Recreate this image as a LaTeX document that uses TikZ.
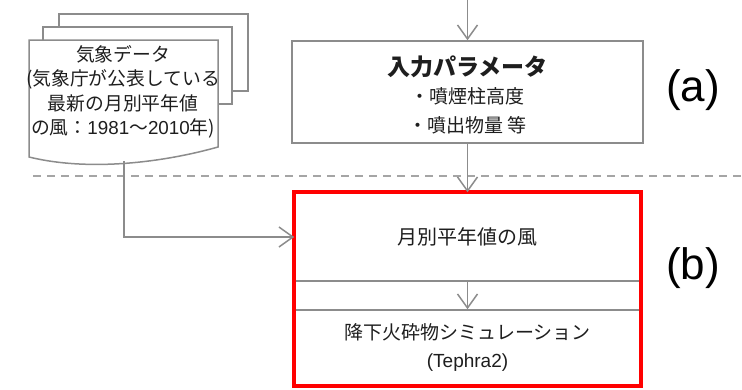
\documentclass[tikz,border=0pt]{standalone}
\usepackage{fontspec}
\setmainfont{Liberation Sans}
\newfontfamily\jp{Noto Sans CJK JP}
\usetikzlibrary{arrows.meta, positioning, fit, calc}
\definecolor{mgray}{RGB}{140,140,140}
\definecolor{dgray}{RGB}{165,165,165}
\definecolor{mred}{RGB}{255,0,0}
\definecolor{mtext}{RGB}{30,30,30}

\tikzset{
  graybox/.style={draw=mgray, line width=1.5pt, fill=white, inner sep=0pt, text=mtext, align=center},
  flow/.style={draw=mgray, line width=1.5pt, -{Straight Barb[length=14pt, width=20pt, line width=1.5pt]}},
  redframe/.style={draw=mred, line width=4pt, inner sep=0pt},
  tag/.style={font=\fontsize{44}{48}\selectfont, text=black}
}

\begin{document}
\begin{tikzpicture}[x=1pt, y=-1pt]
  \useasboundingbox (0,0) rectangle (742,389);

  % divider between (a) and (b)
  \draw[dgray, line width=1.5pt, dash pattern=on 8pt off 6pt] (33,176) -- (742,176);

  % stacked data pages
  \foreach \dx/\dy in {30/-26, 14/-13}{
    \draw[mgray, line width=1.5pt, fill=white] (29+\dx,40+\dy) rectangle (218+\dx,117+\dy);
  }
  \draw[mgray, line width=1.5pt, fill=white] (29,40) -- (218,40) -- (218,147)
    .. controls (165,162) and (90,172) .. (29,157) -- cycle;
  \node[text=mtext, align=center, font=\jp\fontsize{18.8}{24.5}\selectfont] (data) at (123,92)
    {気象データ\\(気象庁が公表している\\最新の月別平年値\\の風：{\rmfamily 1981}～{\rmfamily 2010}年)};
  \coordinate (dataend) at (124,161);

  % (a) input
  \coordinate (start) at (467.5,0);
  \node[graybox, minimum width=351pt, minimum height=102pt] (param) at (467.5,92) {};
  \node[text=mtext, font=\jp\bfseries\fontsize{23}{26}\selectfont] (ptitle) at (467.5,67) {入力パラメータ};
  \node[text=mtext, align=center, font=\jp\fontsize{19}{29}\selectfont, below=2pt of ptitle] (plist)
    {・噴煙柱高度\\・噴出物量 等};

  % (b) simulation
  \node[graybox, minimum width=345pt, minimum height=88pt, font=\jp\fontsize{20}{24}\selectfont] (wind) at (467.5,237) {月別平年値の風};
  \node[graybox, minimum width=345pt, minimum height=75pt, font=\jp\fontsize{19}{28}\selectfont] (sim) at (467.5,347.5)
    {降下火砕物シミュレーション\\{\rmfamily (Tephra2)}};
  \node[redframe, fit=(wind)(sim)] (model) {};

  \draw[flow] (start) -- (param.north);
  \draw[flow] (param.south) -- (wind.north);
  \draw[flow] (wind.south) -- (sim.north);
  \draw[flow] (dataend) |- (wind.west);

  \node[tag] (taga) at (693,90) {(a)};
  \node[tag] (tagb) at (693,268) {(b)};
\end{tikzpicture}
\end{document}
